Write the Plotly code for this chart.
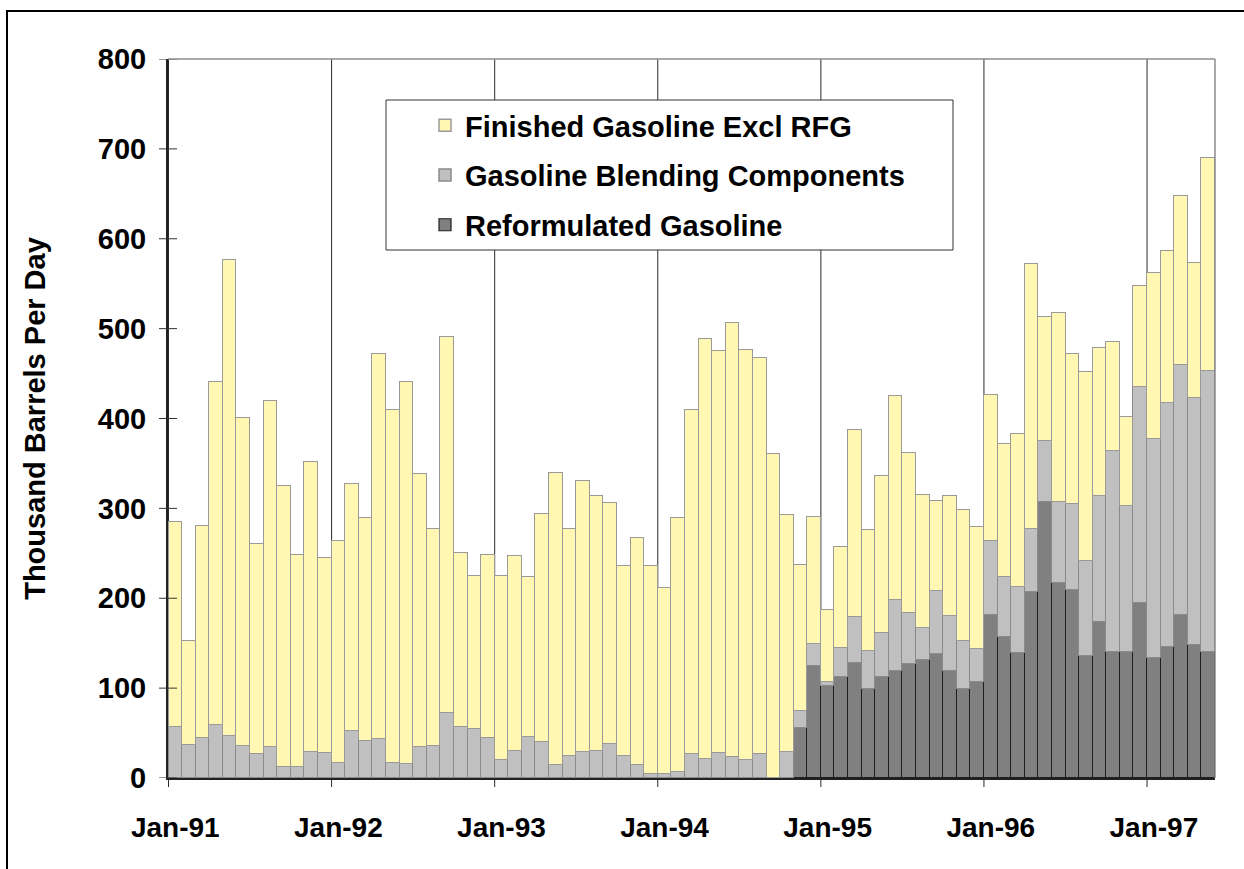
import plotly.graph_objects as go

# monthly imports, Jan-91 .. May-97, thousand barrels per day (stack segments)
MON = ["Jan", "Feb", "Mar", "Apr", "May", "Jun", "Jul", "Aug", "Sep", "Oct", "Nov", "Dec"]
months = [f"{m}-{y}" for y in range(91, 98) for m in MON][:77]

reformulated = [0] * 46 + [
    56, 125,
    102, 112, 128, 99, 112, 119, 127, 131, 138, 119, 99, 107,
    181, 157, 139, 207, 307, 217, 209, 136, 174, 140, 140, 195,
    134, 146, 181, 148, 140,
]

blending = [
    57, 37, 45, 59, 47, 36, 27, 35, 12, 12, 29, 28,
    17, 52, 41, 43, 17, 16, 35, 36, 72, 57, 54, 45,
    20, 30, 46, 40, 15, 25, 29, 30, 38, 25, 14, 4,
    5, 7, 27, 21, 28, 23, 20, 27, 0, 29, 18, 24,
    5, 33, 51, 42, 49, 79, 57, 36, 70, 61, 53, 36,
    83, 67, 74, 70, 68, 90, 96, 106, 140, 224, 163, 240,
    243, 271, 278, 275, 313,
]

finished = [
    228, 115, 235, 382, 529, 365, 233, 385, 313, 236, 323, 217,
    247, 275, 248, 429, 393, 425, 303, 241, 419, 193, 171, 203,
    205, 217, 178, 254, 324, 252, 301, 284, 268, 211, 253, 232,
    206, 282, 383, 468, 447, 483, 456, 440, 361, 264, 163, 141,
    80, 112, 208, 135, 175, 227, 178, 148, 100, 134, 146, 136,
    162, 148, 170, 295, 138, 210, 167, 210, 165, 121, 99, 112,
    185, 169, 189, 150, 237,
]

y_ticks = [0, 100, 200, 300, 400, 500, 600, 700, 800]
jan_ticks = [m for m in months if m.startswith("Jan")]

FONT = "Arial, Liberation Sans, sans-serif"
FS = 28


def main():
    fig = go.Figure()

    fig.add_trace(go.Bar(
        x=months, y=reformulated, name="Reformulated Gasoline",
        legendgroup="c", legendrank=3,
        marker=dict(color="#808080", line=dict(color="#1e1e1e", width=1.2)),
    ))
    fig.add_trace(go.Bar(
        x=months, y=blending, name="Gasoline Blending Components",
        legendgroup="b", legendrank=2,
        marker=dict(color="#c0c0c0", line=dict(color="#8a8a8a", width=1.5)),
    ))
    fig.add_trace(go.Bar(
        x=months, y=finished, name="Finished Gasoline Excl RFG",
        legendgroup="a", legendrank=1,
        marker=dict(color="#fff7b2", line=dict(color="#9a9a9a", width=1.5)),
    ))

    l, r, t, b = 168, 29, 59, 91
    W, H = 1244, 869
    pw, ph = W - l - r, H - t - b

    def px(x):
        return (x - l) / pw

    def py(y):
        return (H - b - y) / ph

    shapes = []
    # year gridlines on the category boundary before each January, with tick marks below the axis
    for i, m in enumerate(months):
        if m.startswith("Jan"):
            shapes.append(dict(type="line", xref="x", yref="paper", x0=i - 0.5, x1=i - 0.5,
                               y0=-9 / ph, y1=1, line=dict(color="#2a2a2a", width=1), layer="below"))
    # y tick marks crossing the axis
    for v in y_ticks:
        shapes.append(dict(type="line", xref="paper", yref="y", x0=-9 / pw, x1=9 / pw, y0=v, y1=v,
                           line=dict(color="#333333", width=1), layer="above"))
    shapes += [
        # legend box
        dict(type="rect", xref="paper", yref="paper",
             x0=px(386), x1=px(953), y0=py(250), y1=py(100),
             fillcolor="white", line=dict(color="#333333", width=1), layer="below"),
        # outer chart frame (runs off the page on right and bottom)
        dict(type="rect", xref="paper", yref="paper",
             x0=px(7), x1=px(1300), y0=py(900), y1=py(11),
             line=dict(color="#000000", width=2), layer="above"),
        # top and right edges of the plot area
        dict(type="line", xref="paper", yref="paper", x0=0, x1=1, y0=1, y1=1,
             line=dict(color="#8c8c8c", width=1.5)),
        dict(type="line", xref="paper", yref="paper", x0=1, x1=1, y0=0, y1=1,
             line=dict(color="#8c8c8c", width=1.5)),
    ]

    fig.update_layout(
        width=W, height=H,
        barmode="stack", bargap=0,
        paper_bgcolor="white", plot_bgcolor="white",
        margin=dict(l=l, r=r, t=t, b=b, autoexpand=False),
        font=dict(family=FONT, size=FS, color="black", weight="bold"),
        showlegend=True,
        legend=dict(
            x=px(425), y=py(100), xanchor="left", yanchor="top",
            bgcolor="rgba(0,0,0,0)", borderwidth=0,
            traceorder="grouped", tracegroupgap=9,
            font=dict(family=FONT, size=29, weight="bold"),
        ),
        shapes=shapes,
    )

    fig.update_xaxes(
        type="category",
        tickvals=jan_ticks, ticktext=jan_ticks, tickangle=0,
        ticks="outside", ticklen=23, tickcolor="rgba(0,0,0,0)",
        showgrid=False,
        showline=True, linecolor="#222222", linewidth=2,
        tickfont=dict(family=FONT, size=FS, weight="bold"),
        automargin=False,
    )
    fig.update_yaxes(
        range=[0, 800], tickvals=y_ticks,
        ticks="", ticklabelstandoff=14,
        showgrid=False, zeroline=False,
        showline=True, linecolor="#222222", linewidth=2,
        tickfont=dict(family=FONT, size=29, weight="bold"),
        title=dict(text="Thousand Barrels Per Day",
                   font=dict(family=FONT, size=29, weight="bold"), standoff=44),
        automargin=False,
    )

    fig.write_html("out.html", config={"displayModeBar": False},
                   post_script="document.body.style.margin='0';document.body.style.overflow='hidden';")


if __name__ == "__main__":
    main()
